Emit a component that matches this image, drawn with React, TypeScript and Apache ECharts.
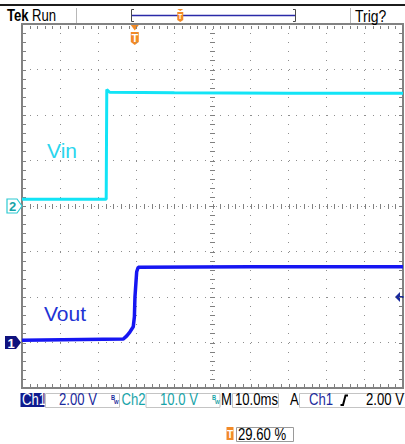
import React, { useEffect, useRef } from 'react';
import * as echarts from 'echarts';

// Acquisition: 10 divisions of 10.0 ms, trigger at 29.60 % of the record
const screenMs = 100;
const triggerPercent = 29.6;
const triggerLevelV = 2.0;

// CH2 (Vin), 10 V/div, ground at screen centre
const vinTimeMs = [0, 22.1, 22.25, 23.0, 40, 70, 100];
const vinVolts = [1.5, 1.5, 25.6, 25.0, 24.9, 24.8, 24.8];

// CH1 (Vout), 2 V/div, ground three divisions below centre
const voutTimeMs = [0, 26.6, 27.5, 28.35, 29.2, 29.5, 29.65, 29.9, 30.1, 30.5, 60, 100];
const voutVolts = [0.1, 0.15, 0.29, 0.47, 0.69, 1.13, 2.01, 2.62, 3.11, 3.31, 3.33, 3.33];

// Readout texts
const ch1Scale = '2.00 V';
const ch2Scale = '10.0 V';
const timeBase = '10.0ms';
const trigSource = 'Ch1';
const trigLevelText = '2.00 V';
const trigPosText = '29.60 %';

// narrow readout face: Liberation Sans squeezed horizontally
const FONT = '"Liberation Sans", Arial, sans-serif';
const SQUEEZE = 0.82;
const LABEL_FONT = '"Liberation Sans", Arial, sans-serif';
const ORANGE = '#f28a26';
const CYAN = '#12e4f6';
const BLUE = '#1616f2';
const NAVY = '#10127e';
const READOUT_BLUE = '#1a2a9c';
const TEAL = '#17a3a8';

const zip = (a: number[], b: number[]) => a.map((v, i) => [v, b[i]]);

function graticule(params: any, api: any) {
  const kids: any[] = [];
  const dot = '#8e8e8e';
  const tick = '#808080';
  const px = (x: number, y: number, w: number, h: number, c: string) =>
    kids.push({ type: 'rect', shape: { x, y, width: w, height: h }, style: { fill: c } });
  const C = (x: number, y: number) => api.coord([x, y]);

  // dotted division lines
  for (let gx = -4; gx <= 4; gx++) {
    if (gx === 0) continue;
    for (let k = 1; k < 40; k++) {
      const p = C(gx, -4 + k * 0.2);
      px(Math.floor(p[0]), Math.round(p[1]), 1, 1, dot);
    }
  }
  for (let gy = -3; gy <= 3; gy++) {
    if (gy === 0) continue;
    for (let k = 1; k < 50; k++) {
      const p = C(-5 + k * 0.2, gy);
      px(Math.round(p[0]), Math.floor(p[1]), 1, 1, dot);
    }
  }
  // centre crosshair with minor ticks
  for (let k = 1; k < 40; k++) {
    const p = C(0, -4 + k * 0.2);
    px(Math.floor(p[0]) - 2, Math.round(p[1]), 5, 1, tick);
    const q = C(0, -4 + k * 0.2 + 0.1);
    px(Math.floor(q[0]), Math.round(q[1]), 1, 1, dot);
  }
  for (let k = 1; k < 50; k++) {
    const p = C(-5 + k * 0.2, 0);
    px(Math.round(p[0]), Math.floor(p[1]) - 2, 1, 5, tick);
    const q = C(-5 + k * 0.2 + 0.1, 0);
    px(Math.round(q[0]), Math.floor(q[1]), 1, 1, dot);
  }
  // border ticks
  for (let k = 1; k < 50; k++) {
    const t = C(-5 + k * 0.2, 4);
    const b = C(-5 + k * 0.2, -4);
    px(Math.round(t[0]), Math.round(t[1]) + 2, 1, 3, tick);
    px(Math.round(b[0]), Math.round(b[1]) - 4, 1, 3, tick);
  }
  for (let k = 1; k < 40; k++) {
    const l = C(-5, -4 + k * 0.2);
    const r = C(5, -4 + k * 0.2);
    px(Math.round(l[0]) + 1, Math.round(l[1]), 3, 1, tick);
    px(Math.round(r[0]) - 4, Math.round(r[1]), 3, 1, tick);
  }
  return { type: 'group', children: kids };
}

function narrowText(x: number, y: number, text: string, fill: string, font: string, align = 'left') {
  return {
    type: 'text',
    x,
    y,
    scaleX: SQUEEZE,
    style: { text, fill, font, verticalAlign: 'middle', textAlign: align },
    silent: true,
  };
}

function readoutText(x: number, y: number, text: string, fill: string) {
  return narrowText(x, y, text, fill, `16px ${FONT}`);
}

function box(x: number, y: number, w: number, h: number, stroke = '#c4c4c4') {
  return {
    type: 'rect',
    shape: { x, y, width: w, height: h },
    style: { fill: 'none', stroke, lineWidth: 1 },
    silent: true,
  };
}

function bwIcon(x: number, y: number, fill: string) {
  return [
    narrowText(x, y, 'B', fill, `bold 7px ${FONT}`),
    narrowText(x + 3, y + 5, 'W', fill, `bold 6px ${FONT}`),
  ];
}

function buildGraphic(trigX: number, ch1Zero: number, ch2Zero: number, trigY: number) {
  const g: any[] = [];
  // header bar
  g.push({ type: 'rect', shape: { x: 0, y: 4, width: 405, height: 2 }, style: { fill: '#1c1c1c' } });
  g.push({ type: 'line', shape: { x1: 76.5, y1: 8, x2: 76.5, y2: 23 }, style: { stroke: '#b8b8b8', lineWidth: 1 } });
  g.push({ type: 'line', shape: { x1: 350.5, y1: 8, x2: 350.5, y2: 23 }, style: { stroke: '#b8b8b8', lineWidth: 1 } });
  g.push(narrowText(7, 15.5, 'Tek', '#000', `bold 16px ${FONT}`));
  g.push(narrowText(32, 15.5, 'Run', '#000', `16px ${FONT}`));
  g.push(narrowText(355, 15.5, 'Trig?', '#000', `17px ${FONT}`));

  // record-length bar with trigger position
  const recL = 132;
  const recR = 295;
  g.push({ type: 'polyline', shape: { points: [[134, 9.5], [131.5, 9.5], [131.5, 21.5], [134, 21.5]] }, style: { stroke: '#4a4a4a', lineWidth: 1, fill: 'none' } });
  g.push({ type: 'polyline', shape: { points: [[293, 9.5], [295.5, 9.5], [295.5, 21.5], [293, 21.5]] }, style: { stroke: '#4a4a4a', lineWidth: 1, fill: 'none' } });
  g.push({ type: 'line', shape: { x1: recL, y1: 15.5, x2: recR, y2: 15.5 }, style: { stroke: '#2a2aa8', lineWidth: 1.3 } });
  const recT = recL + (triggerPercent / 100) * (recR - recL);
  g.push({ type: 'polygon', shape: { points: [[recT - 3, 9], [recT + 3, 9], [recT, 11]] }, style: { fill: ORANGE } });
  g.push({ type: 'polygon', shape: { points: [[recT - 3, 12], [recT + 3, 12], [recT + 3, 20], [recT, 22], [recT - 3, 20]] }, style: { fill: ORANGE } });
  g.push({ type: 'text', x: recT, y: 16.5, style: { text: 'T', fill: '#fff', font: `bold 7px ${FONT}`, textAlign: 'center', verticalAlign: 'middle' } });

  // trigger position marker
  g.push({ type: 'polygon', shape: { points: [[trigX - 4, 25], [trigX + 4, 25], [trigX, 30.5]] }, style: { fill: ORANGE } });
  g.push({ type: 'polygon', shape: { points: [[trigX - 4, 32], [trigX + 4, 32], [trigX + 4, 42], [trigX, 45], [trigX - 4, 42]] }, style: { fill: ORANGE } });
  g.push({ type: 'text', x: trigX, y: 38, style: { text: 'T', fill: '#fff', font: `bold 11px ${FONT}`, textAlign: 'center', verticalAlign: 'middle' } });

  // channel ground markers
  g.push({
    type: 'polygon',
    shape: { points: [[7, ch2Zero - 7], [17, ch2Zero - 7], [22, ch2Zero], [17, ch2Zero + 7], [7, ch2Zero + 7]] },
    style: { fill: '#fff', stroke: '#2ccad2', lineWidth: 1.2 },
  });
  g.push({ type: 'text', x: 12.5, y: ch2Zero + 0.5, style: { text: '2', fill: TEAL, font: `bold 13px ${FONT}`, textAlign: 'center', verticalAlign: 'middle' } });
  g.push({
    type: 'polygon',
    shape: { points: [[5, ch1Zero - 6.5], [16, ch1Zero - 6.5], [21, ch1Zero], [16, ch1Zero + 6.5], [5, ch1Zero + 6.5]] },
    style: { fill: NAVY },
  });
  g.push({ type: 'text', x: 11, y: ch1Zero + 0.5, style: { text: '1', fill: '#fff', font: `bold 13px ${FONT}`, textAlign: 'center', verticalAlign: 'middle' } });

  // trigger level arrow
  g.push({ type: 'polygon', shape: { points: [[395, trigY], [400, trigY - 5], [400, trigY + 5]] }, style: { fill: READOUT_BLUE } });
  g.push({ type: 'rect', shape: { x: 399, y: trigY - 1, width: 4.5, height: 2 }, style: { fill: READOUT_BLUE } });

  // trace labels
  g.push({ type: 'text', x: 47, y: 150, style: { text: 'Vin', fill: '#2ad6ee', font: `21px ${LABEL_FONT}`, verticalAlign: 'middle' } });
  g.push({ type: 'text', x: 44, y: 313, style: { text: 'Vout', fill: '#2233d4', font: `21px ${LABEL_FONT}`, verticalAlign: 'middle' } });

  // status readout
  const ry = 400;
  g.push({ type: 'rect', shape: { x: 20.5, y: 393, width: 24, height: 14 }, style: { fill: '#0e1a8e' } });
  g.push(readoutText(22, ry, 'Ch1', '#fff'));
  g.push(box(45.5, 393.5, 74, 14));
  g.push(readoutText(59, ry, ch1Scale, READOUT_BLUE));
  g.push(...bwIcon(111, 397, READOUT_BLUE));
  g.push(readoutText(121.5, ry, 'Ch2', TEAL));
  g.push(box(146, 393.5, 74, 14));
  g.push(readoutText(160, ry, ch2Scale, TEAL));
  g.push(...bwIcon(212, 397, TEAL));
  g.push(readoutText(221, ry, 'M', '#000'));
  g.push(box(232.5, 393.5, 46, 14));
  g.push(readoutText(235, ry, timeBase, '#000'));
  g.push(readoutText(290, ry, 'A', '#000'));
  g.push(box(299.5, 393.5, 106, 14));
  g.push(readoutText(309, ry, trigSource, READOUT_BLUE));
  g.push({
    type: 'polyline',
    shape: { points: [[340.5, 405], [343, 405], [345.5, 395.5], [348, 395.5]] },
    style: { stroke: '#000', lineWidth: 2, fill: 'none' },
  });
  g.push(readoutText(366, ry, trigLevelText, '#000'));

  // trigger position readout
  g.push({ type: 'rect', shape: { x: 226.5, y: 427, width: 7, height: 13 }, style: { fill: ORANGE } });
  g.push({ type: 'text', x: 230, y: 434, style: { text: 'T', fill: '#fff', font: `bold 10px ${FONT}`, textAlign: 'center', verticalAlign: 'middle' } });
  g.push({ type: 'rect', shape: { x: 236.5, y: 427.5, width: 57, height: 14 }, style: { fill: '#fff', stroke: '#9a9a9a', lineWidth: 1 } });
  g.push(readoutText(238, 434.5, trigPosText, '#000'));
  return g;
}

export default function App() {
  const ref = useRef<HTMLDivElement>(null);
  useEffect(() => {
    const chart = echarts.init(ref.current!, null, { renderer: 'svg', width: 405, height: 444 });
    chart.setOption({
      animation: false,
      backgroundColor: '#ffffff',
      grid: {
        left: 22,
        top: 24,
        width: 381,
        height: 364,
        show: true,
        borderColor: '#828282',
        borderWidth: 2,
        backgroundColor: 'transparent',
      },
      xAxis: [
        { type: 'value', min: 0, max: screenMs, show: false },
        { type: 'value', min: -5, max: 5, show: false },
      ],
      yAxis: [
        { type: 'value', min: -4, max: 4, show: false },
        { type: 'value', min: -2, max: 14, show: false },
        { type: 'value', min: -40, max: 40, show: false },
      ],
      series: [
        {
          type: 'custom',
          xAxisIndex: 1,
          yAxisIndex: 0,
          data: [[0, 0]],
          renderItem: graticule,
          silent: true,
          z: 1,
        },
        {
          name: 'Vin',
          type: 'line',
          xAxisIndex: 0,
          yAxisIndex: 2,
          data: zip(vinTimeMs, vinVolts),
          showSymbol: false,
          lineStyle: { color: CYAN, width: 3 },
          z: 3,
        },
        {
          name: 'Vout',
          type: 'line',
          xAxisIndex: 0,
          yAxisIndex: 1,
          data: zip(voutTimeMs, voutVolts),
          showSymbol: false,
          lineStyle: { color: BLUE, width: 3.5 },
          z: 4,
        },
      ],
    });
    const trigX = chart.convertToPixel({ xAxisIndex: 0 }, (triggerPercent / 100) * screenMs) as number;
    const ch1Zero = chart.convertToPixel({ yAxisIndex: 1 }, 0) as number;
    const ch2Zero = chart.convertToPixel({ yAxisIndex: 2 }, 0) as number;
    const trigY = chart.convertToPixel({ yAxisIndex: 1 }, triggerLevelV) as number;
    chart.setOption({ graphic: buildGraphic(trigX, ch1Zero, ch2Zero, trigY) });
    return () => chart.dispose();
  }, []);
  return (
    <div
      ref={ref}
      style={{ position: 'absolute', left: 0, top: 0, width: 405, height: 444, background: '#fff' }}
    />
  );
}
